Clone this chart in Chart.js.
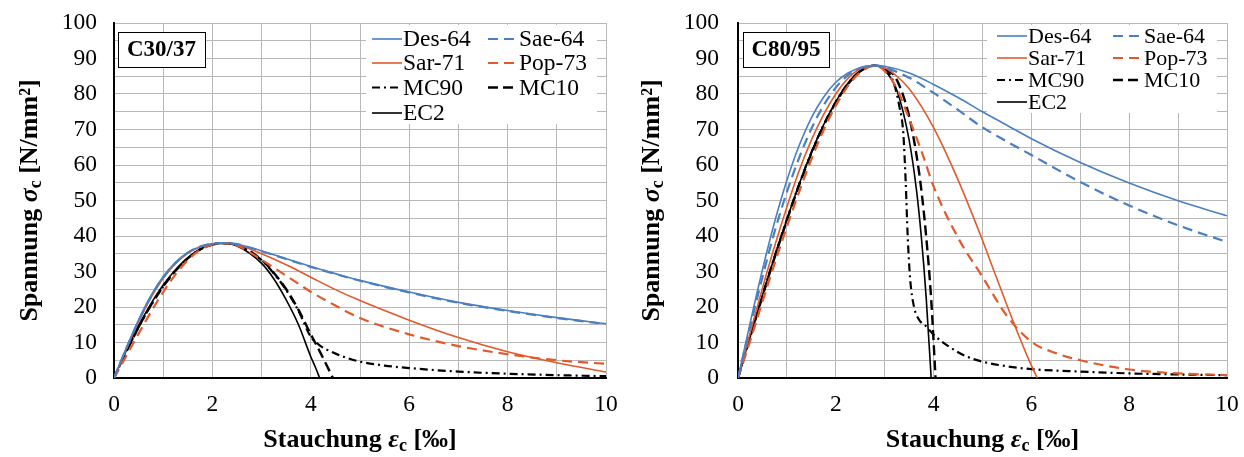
<!DOCTYPE html>
<html>
<head>
<meta charset="utf-8">
<script src="https://cdn.jsdelivr.net/npm/chart.js@4.4.1/dist/chart.umd.min.js"></script>
<style>
  body { margin: 0; background: #fff; }
  .wrap { display: flex; width: 1244px; height: 457px; }
  canvas { display: block; }
</style>
</head>
<body>
<div class="wrap">
  <canvas id="c30" width="622" height="457"></canvas>
  <canvas id="c80" width="622" height="457"></canvas>
</div>
<script>
// series names, same order in both charts
const seriesNames = ["Des-64", "Sae-64", "Sar-71", "Pop-73", "MC90", "MC10", "EC2"];

// ---- C30/37 ----
const strain30 = [0, 0.25, 0.5, 0.75, 1, 1.25, 1.5, 1.75, 2, 2.2, 2.5, 3, 3.5, 4, 4.5, 5, 6, 7, 8, 9, 10];
const des30 = [0, 8.5, 16.4, 23.2, 28.6, 32.6, 35.4, 37.0, 37.8, 38, 37.7, 35.8, 33.6, 31.4, 29.4, 27.5, 24.2, 21.3, 19.0, 17.0, 15.3];
const sae30 = [0, 8.3, 16.1, 22.9, 28.3, 32.4, 35.3, 37.0, 37.8, 38, 37.7, 35.7, 33.5, 31.3, 29.3, 27.4, 24.1, 21.2, 18.9, 16.9, 15.2];
const sar30 = [0, 8.2, 15.9, 22.6, 28.1, 32.2, 35.1, 36.9, 37.8, 38, 37.6, 35.0, 31.9, 28.4, 24.9, 21.8, 16.3, 11.4, 7.4, 4.3, 1.7];
const pop30 = [0, 6.2, 12.5, 18.6, 24.2, 29.2, 33.2, 36.1, 37.6, 38, 37.3, 33.3, 28.8, 24.3, 20.4, 16.9, 12.3, 9.0, 6.7, 5.0, 4.0];
const mc90Strain30 = [0, 0.25, 0.5, 0.75, 1, 1.25, 1.5, 1.75, 2, 2.2, 2.5, 3, 3.25, 3.5, 3.75, 4, 4.2, 4.4, 4.7, 5, 5.5, 6, 7, 8, 9, 10];
const mc90_30 = [0, 7.4, 14.3, 20.5, 25.8, 30.2, 33.7, 36.2, 37.6, 38, 37.5, 33.2, 29.4, 24.8, 18.9, 11.6, 9.0, 7.5, 5.8, 4.6, 3.5, 2.8, 1.8, 1.2, 0.8, 0.5];
const mc10Strain30 = [0, 0.25, 0.5, 0.75, 1, 1.25, 1.5, 1.75, 2, 2.2, 2.5, 3, 3.25, 3.5, 3.75, 4, 4.2, 4.35, 4.45];
const mc10_30 = [0, 7.4, 14.3, 20.5, 25.8, 30.2, 33.7, 36.2, 37.6, 38, 37.5, 33.3, 29.6, 25.0, 19.2, 12.3, 7.0, 2.8, 0];
const ec2Strain30 = [0, 0.25, 0.5, 0.75, 1, 1.25, 1.5, 1.75, 2, 2.2, 2.5, 3, 3.25, 3.5, 3.75, 4, 4.1, 4.18];
const ec2_30 = [0, 7.8, 14.8, 20.9, 26.2, 30.5, 33.9, 36.3, 37.7, 38, 37.2, 32.3, 27.9, 22.0, 15.0, 6.0, 2.8, 0];

// ---- C80/95 ----
const strain80 = [0, 0.25, 0.5, 0.75, 1, 1.25, 1.5, 1.75, 2, 2.25, 2.5, 2.8, 3, 3.5, 4, 4.5, 5, 5.5, 6, 7, 8, 9, 10];
const des80 = [0, 15.6, 30.5, 44.0, 55.7, 65.5, 73.3, 79.1, 83.3, 85.9, 87.4, 88, 87.8, 85.9, 82.7, 79.0, 75.0, 71.2, 67.4, 60.7, 54.9, 49.9, 45.7];
const sae80 = [0, 14.5, 28.4, 41.3, 52.4, 62.0, 70.2, 76.8, 81.8, 85.3, 87.3, 88, 87.5, 84.6, 80.3, 75.5, 70.6, 66.6, 62.8, 55.2, 48.6, 43.0, 38.3];
const sarStrain80 = [0, 0.25, 0.5, 0.75, 1, 1.25, 1.5, 1.75, 2, 2.25, 2.5, 2.8, 3, 3.25, 3.5, 3.75, 4, 4.25, 4.5, 4.75, 5, 5.25, 5.5, 5.75, 6, 6.12];
const sar80 = [0, 12.8, 25.3, 37.2, 48.2, 58.4, 67.0, 74.2, 80.0, 84.4, 87.1, 88, 87.4, 85.0, 81.5, 76.5, 70.5, 63.5, 55.8, 47.5, 38.8, 29.6, 20.5, 11.7, 3.5, 0];
const popStrain80 = [0, 0.25, 0.5, 0.75, 1, 1.25, 1.5, 1.75, 2, 2.25, 2.5, 2.8, 3, 3.25, 3.5, 3.75, 4, 4.5, 5, 5.5, 6, 6.5, 7, 8, 9, 10];
const pop80 = [0, 10.5, 21.5, 32.3, 42.6, 52.4, 61.6, 69.8, 76.7, 82.3, 86.1, 88, 86.5, 81.5, 73.0, 64.0, 54.0, 39.5, 28.5, 17.5, 10.2, 7.0, 5.0, 2.4, 1.3, 0.8];
const mc90Strain80 = [0, 0.25, 0.5, 0.75, 1, 1.25, 1.5, 1.75, 2, 2.25, 2.5, 2.8, 3, 3.1, 3.2, 3.3, 3.38, 3.43, 3.47, 3.52, 3.6, 3.7, 3.85, 4, 4.3, 4.65, 5, 5.5, 6, 7, 8, 9, 10];
const mc90_80 = [0, 11.8, 23.3, 34.3, 44.7, 54.6, 63.5, 71.3, 77.8, 83.0, 86.5, 88, 87.2, 85.7, 82.5, 76.5, 69.0, 55.0, 40.0, 28.0, 20.0, 16.5, 14.5, 12.2, 9.0, 6.2, 4.6, 3.3, 2.5, 1.8, 1.3, 1.0, 0.8];
const mc10Strain80 = [0, 0.25, 0.5, 0.75, 1, 1.25, 1.5, 1.75, 2, 2.25, 2.5, 2.8, 3, 3.25, 3.5, 3.65, 3.75, 3.85, 3.95, 4.04];
const mc10_80 = [0, 11.6, 23.0, 34.0, 44.4, 54.3, 63.2, 71.0, 77.6, 82.8, 86.4, 88, 87.3, 83.9, 73.7, 62.8, 52.9, 39.6, 22.3, 0];
const ec2Strain80 = [0, 0.25, 0.5, 0.75, 1, 1.25, 1.5, 1.75, 2, 2.25, 2.5, 2.8, 3, 3.25, 3.5, 3.65, 3.75, 3.85, 3.95];
const ec2_80 = [0, 11.8, 23.3, 34.3, 44.7, 54.6, 63.5, 71.3, 77.8, 83.0, 86.5, 88, 86.7, 81.0, 67.0, 52.9, 39.6, 22.3, 0];

const BLUE = "#4a7fc0";
const ORANGE = "#e2592c";
const SERIF = '"Liberation Serif", "Times New Roman", serif';

const lineStyles = [
    { color: BLUE, dash: [], width: 1.6 },
    { color: BLUE, dash: [10, 6], width: 2.2 },
    { color: ORANGE, dash: [], width: 1.6 },
    { color: ORANGE, dash: [10, 6], width: 2.2 },
    { color: "#000", dash: [8, 4, 2, 4], width: 2.2 },
    { color: "#000", dash: [10, 5], width: 2.4 },
    { color: "#000", dash: [], width: 1.6 }
];

function pts(xs, ys) {
    return xs.map((x, i) => ({ x: x, y: ys[i] }));
}

// draws a label made of pieces (normal / italic / subscript) centred at 0,0
function drawPieces(ctx, pieces) {
    let total = 0;
    pieces.forEach(p => {
        ctx.font = p.font;
        p.w = ctx.measureText(p.t).width;
        total += p.w;
    });
    let x = -total / 2;
    pieces.forEach(p => {
        ctx.font = p.font;
        ctx.fillText(p.t, x, p.dy || 0);
        x += p.w;
    });
}

function makeChart(id, series, opt) {
    const datasets = series.map((s, i) => ({
        label: seriesNames[i],
        data: pts(s[0], s[1]),
        borderColor: lineStyles[i].color,
        borderDash: lineStyles[i].dash,
        borderWidth: lineStyles[i].width,
        pointRadius: 0,
        fill: false,
        cubicInterpolationMode: "monotone"
    }));

    const decor = {
        id: "decor",
        beforeDatasetsDraw(chart) {
            const ctx = chart.ctx;
            const L = opt.legend;
            ctx.save();
            ctx.fillStyle = "#fff";
            ctx.fillRect(L.x, L.y, L.w, L.h);
            ctx.font = L.size + "px " + SERIF;
            ctx.textBaseline = "middle";
            chart.data.datasets.forEach((ds, i) => {
                const x0 = L.cols[i % 2];
                const y0 = L.rows[Math.floor(i / 2)];
                ctx.strokeStyle = ds.borderColor;
                ctx.lineWidth = ds.borderWidth;
                ctx.setLineDash(ds.borderDash);
                ctx.beginPath();
                ctx.moveTo(x0, y0);
                ctx.lineTo(x0 + 30, y0);
                ctx.stroke();
                ctx.setLineDash([]);
                ctx.fillStyle = "#000";
                ctx.fillText(ds.label, x0 + 31, y0 + 1);
            });
            ctx.restore();
        },
        afterDraw(chart) {
            const ctx = chart.ctx;
            const a = chart.chartArea;
            ctx.save();
            // grade box
            const B = opt.box;
            ctx.fillStyle = "#fff";
            ctx.fillRect(B.x, B.y, B.w, B.h);
            ctx.strokeStyle = "#000";
            ctx.lineWidth = 1;
            ctx.strokeRect(B.x + 0.5, B.y + 0.5, B.w, B.h);
            ctx.fillStyle = "#000";
            ctx.font = "bold 23px " + SERIF;
            ctx.textAlign = "center";
            ctx.textBaseline = "middle";
            ctx.fillText(opt.grade, B.x + B.w / 2, B.y + B.h / 2 + 1);

            ctx.textAlign = "left";
            ctx.textBaseline = "middle";
            // y title
            ctx.save();
            ctx.translate(30, (a.top + a.bottom) / 2);
            ctx.rotate(-Math.PI / 2);
            drawPieces(ctx, [
                { t: "Spannung ", font: "bold 26px " + SERIF },
                { t: "σ", font: "italic bold 26px " + SERIF },
                { t: "c", font: "bold 18px " + SERIF, dy: 6 },
                { t: " [N/mm²]", font: "bold 26px " + SERIF }
            ]);
            ctx.restore();
            // x title
            ctx.save();
            ctx.translate((a.left + a.right) / 2, 440);
            drawPieces(ctx, [
                { t: "Stauchung ", font: "bold 26px " + SERIF },
                { t: "ε", font: "italic bold 26px " + SERIF },
                { t: "c", font: "bold 18px " + SERIF, dy: 6 },
                { t: " [‰]", font: "bold 26px " + SERIF }
            ]);
            ctx.restore();
            ctx.restore();
        }
    };

    return new Chart(id, {
        type: "line",
        data: { datasets: datasets },
        options: {
            responsive: false,
            animation: false,
            layout: { padding: { left: 0, right: opt.padRight, top: 23, bottom: 0 } },
            plugins: { legend: { display: false }, tooltip: { enabled: false } },
            scales: {
                x: {
                    type: "linear",
                    min: 0,
                    max: 10,
                    border: { color: "#000", width: 2 },
                    grid: { color: "#b8b8b8", lineWidth: 1, drawTicks: false },
                    ticks: {
                        stepSize: 1,
                        autoSkip: false,
                        maxRotation: 0,
                        padding: 13,
                        color: "#000",
                        font: { family: SERIF, size: 23.5 },
                        callback: v => (v % 2 === 0 ? v : "")
                    },
                    afterFit: s => {
                        s.height = 79;
                        s.paddingLeft = 0;
                        s.paddingRight = 0;
                    }
                },
                y: {
                    min: 0,
                    max: 100,
                    border: { color: "#000", width: 2 },
                    grid: { color: "#b8b8b8", lineWidth: 1, drawTicks: false },
                    ticks: {
                        stepSize: 5,
                        autoSkip: false,
                        padding: opt.yPad,
                        color: "#000",
                        font: { family: SERIF, size: 23.5 },
                        callback: v => (v % 10 === 0 ? v : "")
                    },
                    afterFit: s => {
                        s.width = opt.yWidth;
                        s.paddingTop = 0;
                        s.paddingBottom = 0;
                    }
                }
            }
        },
        plugins: [decor]
    });
}

makeChart("c30", [
    [strain30, des30], [strain30, sae30], [strain30, sar30], [strain30, pop30],
    [mc90Strain30, mc90_30], [mc10Strain30, mc10_30], [ec2Strain30, ec2_30]
], {
    grade: "C30/37",
    yWidth: 114, padRight: 16, yPad: 17,
    box: { x: 118, y: 32, w: 87, h: 35 },
    legend: { x: 366, y: 25, w: 231, h: 99, size: 23.5, cols: [372, 488], rows: [39, 63, 87.5, 113] }
});

makeChart("c80", [
    [strain80, des80], [strain80, sae80], [sarStrain80, sar80], [popStrain80, pop80],
    [mc90Strain80, mc90_80], [mc10Strain80, mc10_80], [ec2Strain80, ec2_80]
], {
    grade: "C80/95",
    yWidth: 116, padRight: 17, yPad: 19,
    box: { x: 121, y: 32, w: 86, h: 35 },
    legend: { x: 365, y: 25, w: 230, h: 88, size: 22, cols: [375, 491], rows: [36, 58, 80, 102] }
});
</script>
</body>
</html>
